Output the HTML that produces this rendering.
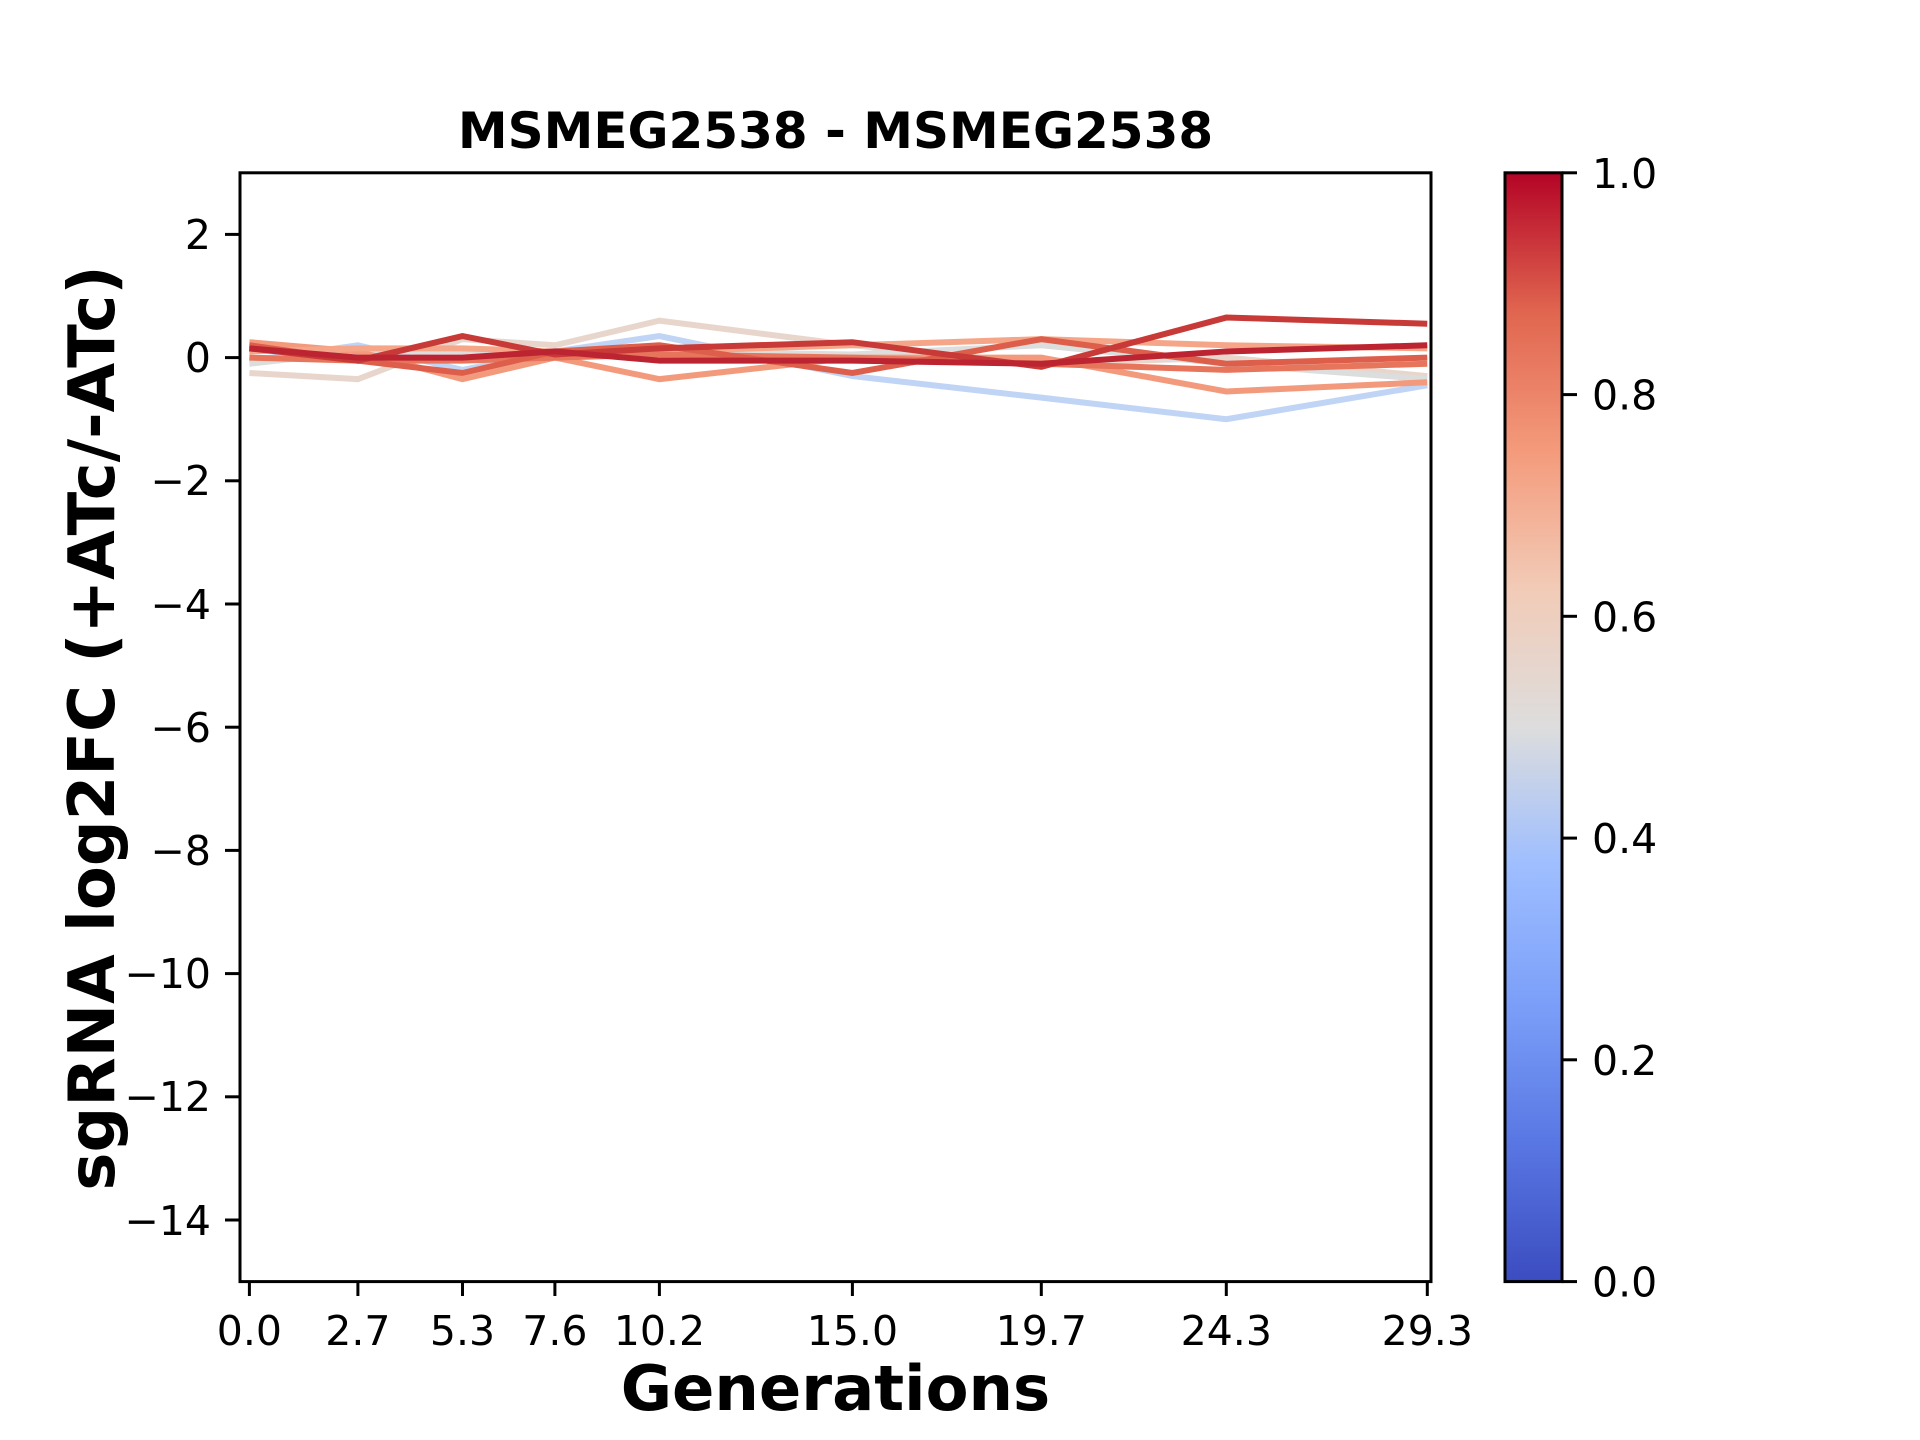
<!DOCTYPE html>
<html><head><meta charset="utf-8"><style>html,body{margin:0;padding:0;background:#fff}svg{display:block}</style></head>
<body>
<svg width="1920" height="1440" viewBox="0 0 1920 1440" xmlns="http://www.w3.org/2000/svg" font-family="'DejaVu Sans','Liberation Sans',sans-serif">
<defs>
<linearGradient id="cm" x1="0" y1="1" x2="0" y2="0">
<stop offset="0" stop-color="#3b4cc0"/>
<stop offset="0.125" stop-color="#5977e3"/>
<stop offset="0.25" stop-color="#7b9ff9"/>
<stop offset="0.375" stop-color="#9ebeff"/>
<stop offset="0.5" stop-color="#dddddd"/>
<stop offset="0.625" stop-color="#f2cbb7"/>
<stop offset="0.75" stop-color="#f49a7b"/>
<stop offset="0.875" stop-color="#e0654f"/>
<stop offset="1" stop-color="#b40426"/>
</linearGradient>
<clipPath id="ax"><rect x="240" y="172.8" width="1191" height="1108.8"/></clipPath>
</defs>
<g clip-path="url(#ax)" fill="none" stroke-width="6" stroke-linejoin="miter">
<g transform="matrix(40.2 0 0 -61.6 249.4 357.6)">
<polyline vector-effect="non-scaling-stroke" stroke="#c0d4f5" points="0,-0.05 2.7,0.2 5.3,-0.2 7.6,0.1 10.2,0.35 15,-0.3 19.7,-0.65 24.3,-1.0 29.3,-0.45"/>
<polyline vector-effect="non-scaling-stroke" stroke="#e8d6cc" points="0,-0.25 2.7,-0.35 5.3,0.3 7.6,0.2 10.2,0.6 15,0.2 19.7,-0.1 24.3,0.0 29.3,-0.3"/>
<polyline vector-effect="non-scaling-stroke" stroke="#dcdddd" points="0,-0.1 2.7,0.1 5.3,0.1 7.6,0.1 10.2,0.1 15,0.05 19.7,0.2 24.3,-0.1 29.3,-0.35"/>
<polyline vector-effect="non-scaling-stroke" stroke="#f39a7d" points="0,0.25 2.7,0.1 5.3,-0.35 7.6,0.0 10.2,-0.35 15,0.0 19.7,0.0 24.3,-0.55 29.3,-0.4"/>
<polyline vector-effect="non-scaling-stroke" stroke="#f6a688" points="0,0.1 2.7,0.15 5.3,0.15 7.6,0.1 10.2,0.1 15,0.2 19.7,0.3 24.3,0.2 29.3,0.15"/>
<polyline vector-effect="non-scaling-stroke" stroke="#e7755c" points="0,0.0 2.7,-0.05 5.3,-0.05 7.6,0.0 10.2,0.05 15,0.0 19.7,-0.1 24.3,-0.2 29.3,-0.1"/>
<polyline vector-effect="non-scaling-stroke" stroke="#dd5f4b" points="0,0.2 2.7,-0.05 5.3,-0.25 7.6,0.1 10.2,0.2 15,-0.25 19.7,0.3 24.3,-0.1 29.3,0.0"/>
<polyline vector-effect="non-scaling-stroke" stroke="#c83a37" points="0,0.15 2.7,-0.05 5.3,0.35 7.6,0.05 10.2,0.15 15,0.25 19.7,-0.15 24.3,0.65 29.3,0.55"/>
<polyline vector-effect="non-scaling-stroke" stroke="#bb2430" points="0,0.15 2.7,0.0 5.3,0.0 7.6,0.1 10.2,-0.05 15,-0.05 19.7,-0.1 24.3,0.1 29.3,0.2"/>
</g></g>
<rect x="240" y="172.8" width="1191" height="1108.8" fill="none" stroke="#000" stroke-width="3"/>
<g stroke="#000" stroke-width="3">
<line x1="240" x2="225" y1="234.4" y2="234.4"/><line x1="240" x2="225" y1="357.6" y2="357.6"/><line x1="240" x2="225" y1="480.8" y2="480.8"/><line x1="240" x2="225" y1="604" y2="604"/><line x1="240" x2="225" y1="727.2" y2="727.2"/><line x1="240" x2="225" y1="850.4" y2="850.4"/><line x1="240" x2="225" y1="973.6" y2="973.6"/><line x1="240" x2="225" y1="1096.8" y2="1096.8"/><line x1="240" x2="225" y1="1220" y2="1220"/>
<line y1="1281.6" y2="1296" x1="249.4" x2="249.4"/><line y1="1281.6" y2="1296" x1="357.9" x2="357.9"/><line y1="1281.6" y2="1296" x1="462.5" x2="462.5"/><line y1="1281.6" y2="1296" x1="554.9" x2="554.9"/><line y1="1281.6" y2="1296" x1="659.4" x2="659.4"/><line y1="1281.6" y2="1296" x1="852.4" x2="852.4"/><line y1="1281.6" y2="1296" x1="1041.3" x2="1041.3"/><line y1="1281.6" y2="1296" x1="1226.3" x2="1226.3"/><line y1="1281.6" y2="1296" x1="1427.3" x2="1427.3"/>
</g>
<g font-size="41" text-anchor="end" fill="#000">
<text x="211" y="249">2</text><text x="211" y="372">0</text><text x="211" y="495">−2</text><text x="211" y="619">−4</text><text x="211" y="742">−6</text><text x="211" y="865">−8</text><text x="211" y="988">−10</text><text x="211" y="1111">−12</text><text x="211" y="1235">−14</text>
</g>
<g font-size="41" text-anchor="middle" fill="#000">
<text x="249.4" y="1345">0.0</text><text x="357.9" y="1345">2.7</text><text x="462.5" y="1345">5.3</text><text x="554.9" y="1345">7.6</text><text x="659.4" y="1345">10.2</text><text x="852.4" y="1345">15.0</text><text x="1041.3" y="1345">19.7</text><text x="1226.3" y="1345">24.3</text><text x="1427.3" y="1345">29.3</text>
</g>
<text x="835.5" y="148" font-size="50" font-weight="bold" text-anchor="middle">MSMEG2538 - MSMEG2538</text>
<text x="835.5" y="1410" font-size="62.5" font-weight="bold" text-anchor="middle">Generations</text>
<text transform="translate(114 728) rotate(-90)" font-size="64" font-weight="bold" text-anchor="middle">sgRNA log2FC (+ATc/-ATc)</text>
<rect x="1505" y="172.8" width="57" height="1108.8" fill="url(#cm)" stroke="#000" stroke-width="3"/>
<g stroke="#000" stroke-width="3">
<line x1="1562" x2="1577" y1="1281.6" y2="1281.6"/><line x1="1562" x2="1577" y1="1059.8" y2="1059.8"/><line x1="1562" x2="1577" y1="838.1" y2="838.1"/><line x1="1562" x2="1577" y1="616.3" y2="616.3"/><line x1="1562" x2="1577" y1="394.6" y2="394.6"/><line x1="1562" x2="1577" y1="172.8" y2="172.8"/>
</g>
<g font-size="41" fill="#000">
<text x="1592" y="1296.6">0.0</text><text x="1592" y="1074.8">0.2</text><text x="1592" y="853.1">0.4</text><text x="1592" y="631.3">0.6</text><text x="1592" y="409.6">0.8</text><text x="1592" y="187.8">1.0</text>
</g>
</svg>
</body></html>
